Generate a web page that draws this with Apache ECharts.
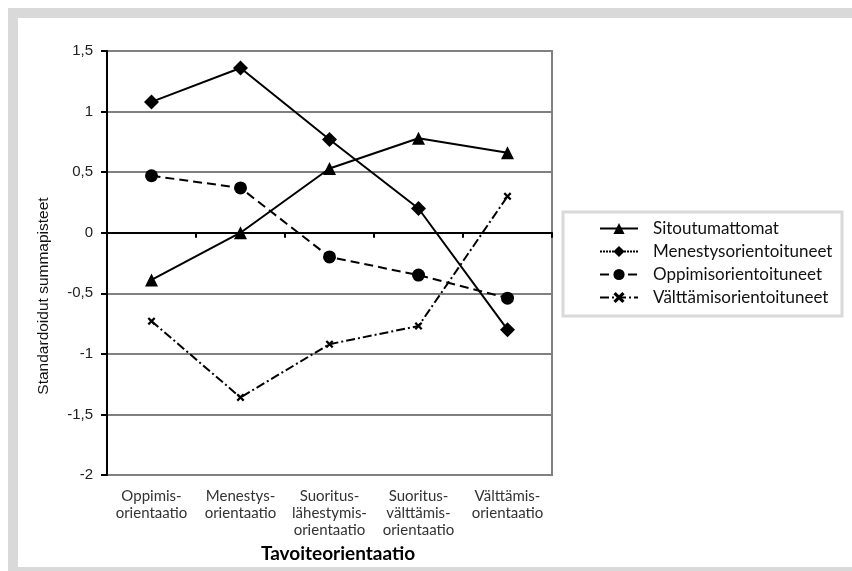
<!DOCTYPE html>
<html>
<head>
<meta charset="utf-8">
<script src="https://cdn.jsdelivr.net/npm/echarts@6/dist/echarts.min.js"></script>
<style>
  html, body { margin: 0; padding: 0; background: #ffffff; }
  #chart { width: 852px; height: 571px; }
</style>
</head>
<body>
<div id="chart"></div>
<script>
// Goal orientation categories (x axis)
const categories = [
  'Oppimis-\norientaatio',
  'Menestys-\norientaatio',
  'Suoritus-\nlähestymis-\norientaatio',
  'Suoritus-\nvälttämis-\norientaatio',
  'Välttämis-\norientaatio'
];

// Standardised sum scores per group
const sitoutumattomat = [-0.39, 0.00, 0.53, 0.78, 0.66];
const menestysorientoituneet = [1.08, 1.36, 0.77, 0.20, -0.80];
const oppimisorientoituneet = [0.47, 0.37, -0.20, -0.35, -0.54];
const valttamisorientoituneet = [-0.73, -1.36, -0.92, -0.77, 0.30];

const seriesNames = ['Sitoutumattomat', 'Menestysorientoituneet', 'Oppimisorientoituneet', 'Välttämisorientoituneet'];

// y axis range and step
const yMin = -2;
const yMax = 1.5;
const yStep = 0.5;

const crossMark = 'path://M0,2 L2,0 L5,3 L8,0 L10,2 L7,5 L10,8 L8,10 L5,7 L2,10 L0,8 L3,5 Z';

const chart = echarts.init(document.getElementById('chart'), null, { renderer: 'canvas' });

const lineBase = { color: '#000', width: 2 };

chart.setOption({
  animation: false,
  backgroundColor: '#ffffff',
  graphic: [
    {
      type: 'rect',
      shape: { x: 13, y: 13, width: 845, height: 559 },
      style: { fill: 'none', stroke: '#d9d9d9', lineWidth: 10 },
      silent: true
    },
    {
      type: 'rect',
      shape: { x: 563, y: 212, width: 279, height: 104 },
      style: { fill: '#fff', stroke: '#d9d9d9', lineWidth: 3 },
      silent: true,
      z: 0
    }
  ],
  grid: {
    left: 107, right: 300, top: 51, bottom: 96,
    show: true, borderColor: '#808080', borderWidth: 2
  },
  legend: {
    orient: 'vertical',
    left: 594,
    top: 215,
    itemWidth: 38,
    itemHeight: 14,
    itemGap: 6,
    z: 5,
    lineStyle: { width: 2 },
    textStyle: { fontFamily: 'Lato', fontSize: 17, color: '#111', padding: [0, 0, 0, 10] },
    data: [
      { name: seriesNames[0] },
      { name: seriesNames[1], lineStyle: { type: [2, 1], width: 2 } },
      { name: seriesNames[2] },
      { name: seriesNames[3] }
    ]
  },
  xAxis: [
    {
      type: 'category',
      data: categories,
      boundaryGap: true,
      axisLine: { onZero: true, lineStyle: { color: '#000', width: 2 } },
      axisTick: { show: true, length: 5, lineStyle: { color: '#000', width: 2 } },
      axisLabel: { show: false },
      splitLine: { show: false },
      z: 3
    },
    {
      type: 'category',
      data: categories,
      position: 'bottom',
      boundaryGap: true,
      axisLine: { show: false, onZero: false },
      axisTick: { show: false },
      axisLabel: {
        margin: 13,
        fontFamily: 'Lato',
        fontSize: 15,
        lineHeight: 17,
        color: '#333',
        interval: 0
      },
      name: 'Tavoiteorientaatio',
      nameLocation: 'middle',
      nameGap: 63,
      nameTextStyle: {
        fontFamily: 'Lato', fontWeight: 'bold', fontSize: 19, color: '#000',
        padding: [0, 0, 0, 17]
      }
    }
  ],
  yAxis: {
    type: 'value',
    min: yMin,
    max: yMax,
    interval: yStep,
    axisLine: { show: true, onZero: false, lineStyle: { color: '#000', width: 2 } },
    axisTick: { show: true, length: 6, lineStyle: { color: '#000', width: 2 } },
    axisLabel: {
      margin: 14,
      fontFamily: 'Liberation Sans',
      fontSize: 15,
      color: '#222',
      formatter: v => String(v).replace('.', ',')
    },
    splitLine: { show: true, lineStyle: { color: '#808080', width: 2 } },
    name: 'Standardoidut summapisteet',
    nameLocation: 'middle',
    nameGap: 55,
    nameTextStyle: {
      fontFamily: 'Liberation Sans', fontSize: 15.5, color: '#111',
      padding: [0, 66, 0, 0]
    }
  },
  series: [
    {
      name: seriesNames[0],
      type: 'line',
      data: sitoutumattomat,
      symbol: 'triangle',
      symbolSize: 13,
      lineStyle: { ...lineBase, type: 'solid' },
      itemStyle: { color: '#000' },
      z: 4
    },
    {
      name: seriesNames[1],
      type: 'line',
      data: menestysorientoituneet,
      symbol: 'diamond',
      symbolSize: 15,
      lineStyle: { ...lineBase, type: 'solid' },
      itemStyle: { color: '#000' },
      z: 4
    },
    {
      name: seriesNames[2],
      type: 'line',
      data: oppimisorientoituneet,
      symbol: 'circle',
      symbolSize: 13,
      lineStyle: { ...lineBase, type: [9, 5] },
      itemStyle: { color: '#000' },
      z: 4
    },
    {
      name: seriesNames[3],
      type: 'line',
      data: valttamisorientoituneet,
      symbol: crossMark,
      symbolSize: 8,
      lineStyle: { ...lineBase, type: [9, 3, 2, 3] },
      itemStyle: { color: '#000' },
      z: 4
    }
  ]
});
</script>
</body>
</html>
